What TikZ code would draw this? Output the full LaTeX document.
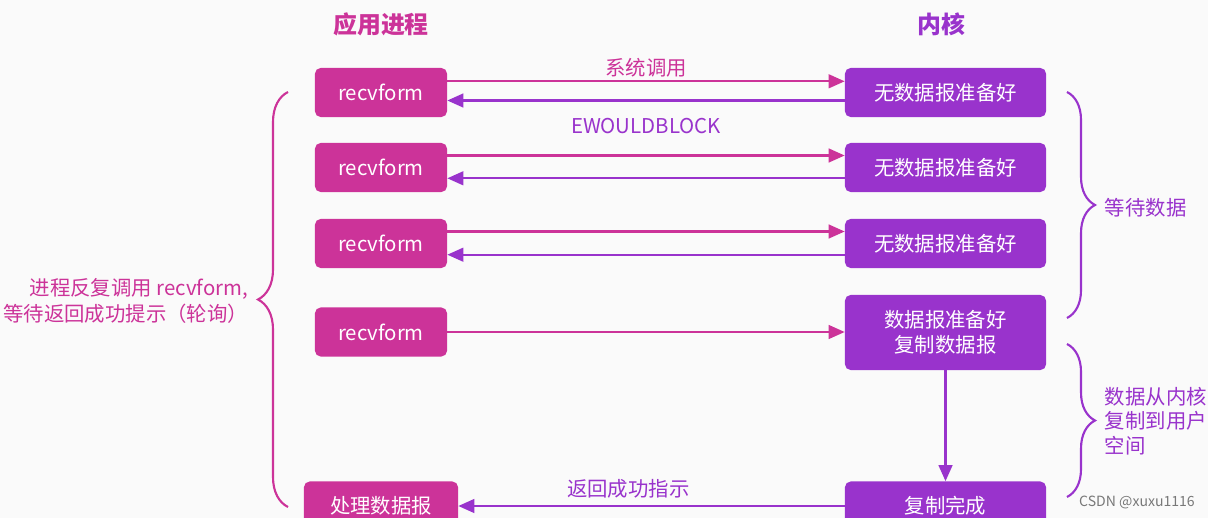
\documentclass[tikz,border=0pt]{standalone}
\usepackage{fontspec}
\setmainfont{Noto Sans CJK SC}
\usetikzlibrary{arrows.meta,positioning,decorations.pathreplacing}
\definecolor{AppPink}   {RGB}{204, 51,153}
\definecolor{KernPurple}{RGB}{153, 51,204}
\definecolor{PaperGray} {RGB}{250,250,250}
\definecolor{MarkGray}  {RGB}{120,120,120}

\begin{document}
\begin{tikzpicture}[
  x=0.025cm, y=-0.025cm,
  font=\fontsize{14.5}{18}\selectfont,
  appbox/.style={
    fill=AppPink, text=white,
    rounded corners=4pt,
    minimum width=3.3cm,
    minimum height=1.225cm,
    inner sep=0pt, align=center
  },
  kernbox/.style={
    fill=KernPurple, text=white,
    rounded corners=4pt,
    minimum width=5.025cm,
    minimum height=1.225cm,
    inner sep=0pt, align=center
  },
  callarrow/.style={
    -{Triangle[length=4mm,width=3.4mm]},
    line width=1.7pt,
    color=AppPink},
  backarrow/.style={
    -{Triangle[length=4mm,width=3.4mm]},
    line width=1.7pt,
    color=KernPurple},
  pinkbrace/.style={
    decorate, decoration={brace, amplitude=0.75cm},
    line width=1.5pt, color=AppPink},
  purplebrace/.style={
    decorate, decoration={brace, amplitude=0.7cm},
    line width=1.5pt, color=KernPurple},
  note/.style={inner sep=2pt}
]
\clip (0,0) rectangle (1208,518);
\useasboundingbox (0,0) rectangle (1208,518);
\fill[PaperGray] (0,0) rectangle (1208,518);

% headings
\node[text=AppPink, font=\fontsize{17}{20}\selectfont\bfseries]
  (apphead) at (381,24) {应用进程};
\node[text=KernPurple, font=\fontsize{17}{20}\selectfont\bfseries]
  (kernhead) at (941,24) {内核};

% process side
\node[appbox] (r1) at (381,92.5) {recvform};
\node[appbox] (r2) at (381,167.5) {recvform};
\node[appbox] (r3) at (381,243.5) {recvform};
\node[appbox] (r4) at (381,332) {recvform};
\node[appbox, minimum width=3.85cm] (use) at (381,506) {处理数据报};

% kernel side
\node[kernbox] (k1) at (945.5,92.5) {无数据报准备好};
\node[kernbox] (k2) at (945.5,167.5) {无数据报准备好};
\node[kernbox] (k3) at (945.5,243.5) {无数据报准备好};
\node[kernbox, minimum height=1.875cm] (k4) at (945.5,332.5)
  {数据报准备好\\复制数据报};
\node[kernbox] (k5) at (945.5,506) {复制完成};

% calls and replies
\draw[callarrow] ([yshift=0.28cm]r1.east) --
  node[note, above, text=AppPink] (syscall) {系统调用}
  ([yshift=0.28cm]k1.west);
\draw[backarrow] ([yshift=-0.2cm]k1.west) --
  node[note, below=0.35cm, text=KernPurple] (ewb) {EWOULDBLOCK}
  ([yshift=-0.2cm]r1.east);
\draw[callarrow] ([yshift=0.3cm]r2.east) -- ([yshift=0.3cm]k2.west);
\draw[backarrow] ([yshift=-0.27cm]k2.west) -- ([yshift=-0.27cm]r2.east);
\draw[callarrow] ([yshift=0.3cm]r3.east) -- ([yshift=0.3cm]k3.west);
\draw[backarrow] ([yshift=-0.28cm]k3.west) -- ([yshift=-0.28cm]r3.east);
\draw[callarrow] (r4.east) -- (r4.east -| k4.west);
\draw[backarrow] (k4.south) -- (k5.north);
\draw[backarrow] (k5.west) --
  node[note, above=3pt, pos=0.56, text=KernPurple] (okmsg) {返回成功指示}
  (use.east);

% braces
\draw[pinkbrace] (288,507) -- (288,92);
\node[text=AppPink, align=right, anchor=east] (polltext) at (253,301)
  {进程反复调用 recvform,\\等待返回成功提示（轮询）};
\draw[purplebrace] (1067,92) -- (1067,318);
\node[text=KernPurple, anchor=west] (waitdata) at (1100,208) {等待数据};
\draw[purplebrace] (1067,344) -- (1067,497);
\node[text=KernPurple, align=left, anchor=west,
  font=\fontsize{14.5}{17.5}\selectfont] (copydata) at (1100,421)
  {数据从内核\\复制到用户\\空间};

\node[text=MarkGray, font=\fontsize{10}{12}\selectfont]
  (mark) at (1137,502) {CSDN @xuxu1116};
\end{tikzpicture}
\end{document}
